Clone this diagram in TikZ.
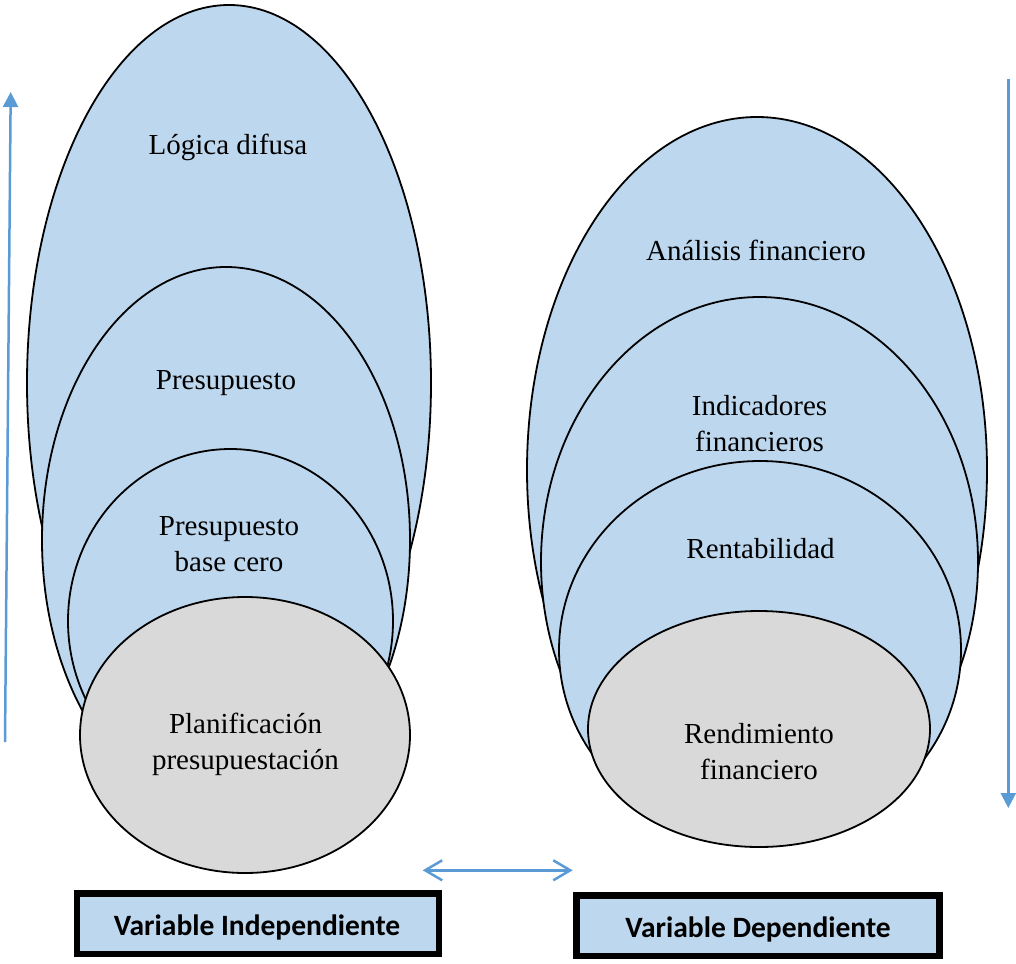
\documentclass[tikz,border=0pt]{standalone}
\usepackage{fontspec}
\setmainfont{Liberation Serif}
\newfontfamily\boxfont{Carlito}
\usetikzlibrary{shapes.geometric,arrows.meta}
\definecolor{fillblue}{HTML}{BDD7EE}
\definecolor{fillgray}{HTML}{D9D9D9}
\definecolor{arrowblue}{HTML}{5B9BD5}

\begin{document}
\begin{tikzpicture}[x=1pt,y=-1pt,
  layer/.style={ellipse, draw=black, line width=1.8pt, fill=fillblue, inner sep=0pt, outer sep=0pt},
  core/.style={layer, fill=fillgray},
  lbl/.style={anchor=base, inner sep=0pt, font=\fontsize{29}{36}\selectfont},
  varbox/.style={rectangle, draw=black, line width=6.5pt, fill=fillblue, inner sep=0pt},
  varlbl/.style={anchor=base, inner sep=0pt, font=\fontsize{29.5}{34}\selectfont\boxfont\bfseries},
  flow/.style={draw=arrowblue, line width=2.5pt, -{Triangle[length=15pt,width=15pt]}},
  link/.style={draw=arrowblue, line width=2.5pt,
    {Straight Barb[length=17pt,width=20pt]}-{Straight Barb[length=17pt,width=20pt]}}
]
\useasboundingbox (0,0) rectangle (1016,963);

% independent variable: nested layers
\node[layer, minimum width=404pt, minimum height=756pt] (logica) at (229,383) {};
\node[layer, minimum width=368pt, minimum height=546pt] (presup) at (226,540) {};
\node[layer, minimum width=325pt, minimum height=344pt] (basecero) at (230.5,621) {};
\node[core,  minimum width=330pt, minimum height=276pt] (planif) at (245,735) {};

% dependent variable: nested layers
\node[layer, minimum width=460pt, minimum height=706pt] (analisis) at (757,470) {};
\node[layer, minimum width=437pt, minimum height=530pt] (indic) at (759.5,562) {};
\node[layer, minimum width=402pt, minimum height=378pt] (rentab) at (760,650) {};
\node[core,  minimum width=342pt, minimum height=236pt] (rendim) at (759,729) {};

% layer labels
\node[lbl] (tlogica) at (228,154) {Lógica difusa};
\node[lbl] (tpresup) at (226,389) {Presupuesto};
\node[lbl] (tbase) at (229,535) {\begin{tabular}[t]{@{}c@{}}Presupuesto\\base cero\end{tabular}};
\node[lbl] (tplanif) at (245.5,733) {\begin{tabular}[t]{@{}c@{}}Planificación\\presupuestación\end{tabular}};
\node[lbl] (tanalisis) at (756,260) {Análisis financiero};
\node[lbl] (tindic) at (759.5,415) {\begin{tabular}[t]{@{}c@{}}Indicadores\\financieros\end{tabular}};
\node[lbl] (trentab) at (760.5,558) {Rentabilidad};
\node[lbl] (trendim) at (759,743) {\begin{tabular}[t]{@{}c@{}}Rendimiento\\financiero\end{tabular}};

% variable boxes
\node[varbox, minimum width=362pt, minimum height=60.3pt] (vind) at (257.75,923.85) {};
\node[varlbl] (tvind) at (257,935) {Variable Independiente};
\node[varbox, minimum width=363.4pt, minimum height=60.5pt] (vdep) at (758,925.75) {};
\node[varlbl] (tvdep) at (758,937) {Variable Dependiente};

% direction arrows
\coordinate (upfoot) at (5,742);
\coordinate (uphead) at (10.7,92);
\draw[flow] (upfoot) -- (uphead);
\coordinate (downfoot) at (1008.3,79);
\coordinate (downhead) at (1008.3,808);
\draw[flow] (downfoot) -- (downhead);
\coordinate (linkL) at (422.7,870.3);
\coordinate (linkR) at (572.7,870.3);
\draw[link] (linkL) -- (linkR);
\end{tikzpicture}
\end{document}
